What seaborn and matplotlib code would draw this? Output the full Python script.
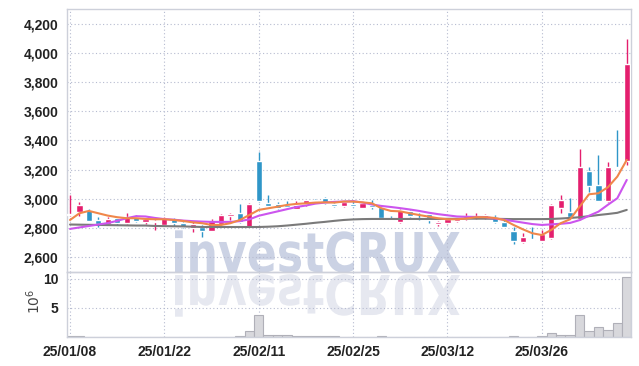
import matplotlib
matplotlib.use("Agg")
import matplotlib.pyplot as plt
import numpy as np
import seaborn as sns
from matplotlib.textpath import TextPath
from matplotlib.patches import PathPatch
from matplotlib.font_manager import FontProperties
from matplotlib.transforms import Affine2D, IdentityTransform
from matplotlib.ticker import FuncFormatter

# trading days (yy/mm/dd)
dates = ['25/01/08', '25/01/09', '25/01/10', '25/01/13', '25/01/14', '25/01/15', '25/01/16', '25/01/17',
         '25/01/20', '25/01/21', '25/01/22', '25/01/23', '25/01/24', '25/01/31', '25/02/03', '25/02/04',
         '25/02/05', '25/02/06', '25/02/07', '25/02/10', '25/02/11', '25/02/12', '25/02/13', '25/02/14',
         '25/02/17', '25/02/18', '25/02/19', '25/02/20', '25/02/21', '25/02/24', '25/02/25', '25/02/26',
         '25/02/27', '25/02/28', '25/03/04', '25/03/05', '25/03/06', '25/03/07', '25/03/10', '25/03/11',
         '25/03/12', '25/03/13', '25/03/14', '25/03/17', '25/03/18', '25/03/19', '25/03/20', '25/03/21',
         '25/03/24', '25/03/25', '25/03/26', '25/03/27', '25/03/28', '25/03/31', '25/04/01', '25/04/02',
         '25/04/03', '25/04/04', '25/04/07', '25/04/08']

opens = [2890, 2913, 2925, 2856, 2827, 2868, 2834, 2875, 2845, 2840,
         2822, 2861, 2838, 2800, 2810, 2783, 2827, 2884, 2906, 2806,
         3262, 2975, 2966, 2959, 2931, 2964, 2993, 3005, 2966, 2955,
         2964, 2938, 2959, 2947, 2868, 2840, 2920, 2868, 2897, 2829,
         2834, 2852, 2861, 2868, 2872, 2875, 2845, 2781, 2702, 2726,
         2714, 2731, 2936, 2913, 2861, 3192, 3096, 2988, 3220, 3262]
highs = [3030, 2982, 2932, 2875, 2877, 2877, 2902, 2893, 2868, 2858,
         2877, 2868, 2845, 2840, 2820, 2862, 2898, 2903, 2966, 2975,
         3324, 3027, 2980, 2988, 2985, 2995, 3003, 3015, 2975, 2988,
         2990, 2975, 2993, 2952, 2882, 2930, 2925, 2902, 2900, 2850,
         2868, 2865, 2902, 2902, 2900, 2888, 2870, 2810, 2770, 2810,
         2790, 2965, 3027, 3005, 3340, 3221, 3301, 3250, 3473, 4094]
lows = [2880, 2880, 2850, 2806, 2820, 2825, 2830, 2843, 2830, 2788,
        2820, 2815, 2800, 2777, 2740, 2780, 2825, 2858, 2836, 2805,
        2980, 2950, 2930, 2935, 2930, 2955, 2978, 2962, 2945, 2945,
        2945, 2935, 2932, 2865, 2853, 2838, 2876, 2855, 2834, 2815,
        2830, 2845, 2858, 2865, 2866, 2835, 2805, 2692, 2700, 2720,
        2712, 2728, 2902, 2870, 2858, 3050, 2985, 2982, 3210, 3233]
closes = [2900, 2959, 2852, 2830, 2863, 2834, 2877, 2849, 2863, 2852,
          2868, 2832, 2810, 2827, 2783, 2849, 2890, 2900, 2845, 2966,
          2986, 2955, 2937, 2942, 2959, 2993, 2988, 2972, 2950, 2980,
          2954, 2970, 2948, 2868, 2858, 2925, 2880, 2860, 2858, 2845,
          2863, 2860, 2884, 2880, 2888, 2840, 2807, 2714, 2742, 2722,
          2760, 2959, 2993, 2875, 3217, 3091, 2988, 3217, 3215, 3925]

# volume, millions of shares
volumes = [0.10, 0.10, 0.08, 0.04, 0.04, 0.03, 0.04, 0.03, 0.03, 0.04,
           0.03, 0.03, 0.04, 0.03, 0.04, 0.05, 0.05, 0.05, 0.15, 1.10,
           3.85, 0.40, 0.40, 0.30, 0.20, 0.10, 0.25, 0.25, 0.10, 0.05,
           0.05, 0.05, 0.05, 0.20, 0.05, 0.05, 0.05, 0.04, 0.04, 0.04,
           0.04, 0.04, 0.04, 0.04, 0.04, 0.05, 0.05, 0.20, 0.05, 0.05,
           0.10, 0.70, 0.40, 0.40, 3.85, 1.10, 1.80, 1.20, 2.40, 10.30]

ma5 = [2856, 2902, 2918, 2902, 2886, 2875, 2868, 2868, 2863, 2861,
       2861, 2856, 2849, 2840, 2834, 2822, 2822, 2834, 2856, 2890,
       2925, 2936, 2947, 2959, 2966, 2970, 2975, 2977, 2975, 2982,
       2982, 2977, 2970, 2936, 2918, 2915, 2902, 2890, 2879, 2868,
       2861, 2861, 2866, 2875, 2875, 2870, 2856, 2822, 2792, 2765,
       2753, 2788, 2834, 2861, 2947, 3032, 3039, 3080, 3153, 3267]
ma20 = [2795, 2805, 2815, 2825, 2835, 2850, 2868, 2882, 2880, 2870,
        2862, 2858, 2852, 2848, 2845, 2843, 2843, 2843, 2848, 2860,
        2885, 2900, 2915, 2930, 2945, 2955, 2968, 2975, 2980, 2982,
        2985, 2975, 2962, 2952, 2945, 2937, 2928, 2918, 2906, 2896,
        2888, 2880, 2878, 2877, 2876, 2866, 2858, 2848, 2838, 2828,
        2822, 2826, 2830, 2836, 2855, 2885, 2913, 2960, 3005, 3130]
ma60 = [2825, 2824, 2823, 2822, 2821, 2820, 2819, 2818, 2818, 2815,
        2814, 2813, 2812, 2810, 2808, 2808, 2808, 2808, 2808, 2808,
        2808, 2810, 2813, 2818, 2824, 2830, 2837, 2843, 2850, 2856,
        2860, 2862, 2863, 2863, 2863, 2863, 2863, 2863, 2863, 2863,
        2864, 2864, 2865, 2865, 2865, 2864, 2863, 2862, 2862, 2862,
        2862, 2863, 2866, 2870, 2875, 2882, 2890, 2897, 2905, 2925]

UP = '#e41f6e'
DOWN = '#2f96c8'

sns.set_theme(style="white")
plt.rcParams['font.family'] = ['Liberation Sans', 'DejaVu Sans']

W, H = 639, 366
fig = plt.figure(figsize=(W / 100, H / 100), dpi=100)
fig.patch.set_facecolor('white')

ax = fig.add_axes([67 / W, 94 / H, 564 / W, 263 / H])
axv = fig.add_axes([67 / W, 29 / H, 564 / W, 65 / H], sharex=ax)
for a in (ax, axv):
    a.set_facecolor('none')
    a.set_axisbelow(True)
    a.grid(True, linestyle=(0, (1, 2.2)), color='#b6bbd0', lw=0.8)
    for s in a.spines.values():
        s.set_color('#cdd0da')
        s.set_linewidth(1)
    a.tick_params(length=0, labelsize=10, labelcolor='#222222', pad=6)

# watermark + reflection
wm = TextPath((0, 0), "investCRUX", size=100,
              prop=FontProperties(family="DejaVu Sans", weight="bold"))
bb = wm.get_extents()
sx = 285 / bb.width
sy = 40 / 72.9
t_main = Affine2D().translate(-bb.x0, 0).scale(sx, sy).translate(175, H - 272) + IdentityTransform()
t_refl = Affine2D().translate(-bb.x0, 0).scale(sx, -sy).translate(175, H - 275) + IdentityTransform()
fig.patches.append(PathPatch(wm, transform=t_main, facecolor='#cbd2e4', edgecolor='none', zorder=-5))
fig.patches.append(PathPatch(wm, transform=t_refl, facecolor='#e6e8f0', edgecolor='none', zorder=-5))

idx = np.arange(len(dates))
o = np.array(opens, float)
c = np.array(closes, float)
colors = [UP if cc >= oo else DOWN for oo, cc in zip(o, c)]
body_lo = np.minimum(o, c)
body_h = np.maximum(np.abs(c - o), 4)

ax.vlines(idx, lows, highs, colors=colors, lw=1, zorder=2)
ax.bar(idx, body_h, bottom=body_lo, width=0.65, color=colors, zorder=3)

sns.lineplot(x=idx, y=ma60, ax=ax, color='#7a7a7a', lw=1.5, zorder=4)
sns.lineplot(x=idx, y=ma20, ax=ax, color='#cc55ee', lw=1.5, zorder=4)
sns.lineplot(x=idx, y=ma5, ax=ax, color='#f0874a', lw=1.5, zorder=4)

ax.set_ylim(2500, 4300)
ax.set_yticks(np.arange(2600, 4201, 200))
ax.yaxis.set_major_formatter(FuncFormatter(lambda v, p: f"{v:,.0f}"))
ax.set_xlim(-0.32, 59.45)
ax.set_xticks(idx[::10])
ax.tick_params(axis='x', labelbottom=False)
ax.set_xlabel('')
ax.set_ylabel('')

sns.barplot(x=idx, y=volumes, ax=axv, native_scale=True, width=1.0, color='#d8d8dc',
            edgecolor='#b0b0b8', linewidth=0.8, saturation=1, errorbar=None, zorder=2)
axv.set_ylim(0, 11.2)
axv.set_yticks([5, 10])
axv.set_yticklabels(['5', '10'])
axv.set_xlim(-0.32, 59.45)
axv.set_xticks(idx[::10])
axv.set_xticklabels(dates[::10])
axv.set_xlabel('')
axv.set_ylabel(r'$10^{6}$', fontsize=10, color='#444444', family='DejaVu Sans')
axv.yaxis.set_label_coords(-0.042, 0.55)

for a in (ax, axv):
    for lab in a.get_xticklabels() + a.get_yticklabels():
        lab.set_fontweight('bold')

fig.savefig('out.png', dpi=100)
